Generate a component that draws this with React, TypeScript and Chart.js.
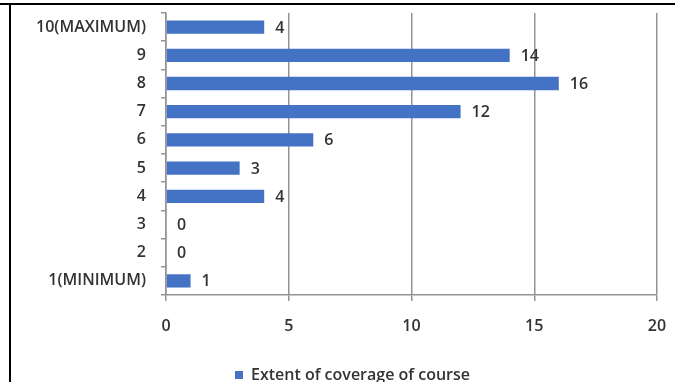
import React, { useEffect, useRef } from "react";
import { Chart, registerables } from "chart.js";

Chart.register(...registerables);

const categories = [
  "10(MAXIMUM)",
  "9",
  "8",
  "7",
  "6",
  "5",
  "4",
  "3",
  "2",
  "1(MINIMUM)",
];
const values = [4, 14, 16, 12, 6, 3, 4, 0, 0, 1];
const seriesLabel = "Extent of coverage of course";
const xMin = 0;
const xMax = 20;
const xStep = 5;

const FONT = "'Open Sans', sans-serif";
const WEIGHT = 600;
const TEXT = "#333333";
const GRID = "#939393";
const BAR = "#4472C4";

const dataLabels = {
  id: "dataLabels",
  afterDatasetsDraw(chart: any) {
    const { ctx } = chart;
    const meta = chart.getDatasetMeta(0);
    ctx.save();
    ctx.font = `${WEIGHT} 16px ${FONT}`;
    ctx.fillStyle = TEXT;
    ctx.textAlign = "left";
    ctx.textBaseline = "middle";
    meta.data.forEach((el: any, i: number) => {
      ctx.fillText(String(values[i]), el.x + 11, el.y + 1);
    });
    ctx.restore();
  },
};

const legendShift = {
  id: "legendShift",
  afterLayout(chart: any) {
    if (chart.legend) {
      chart.legend.left += 24;
      chart.legend.right += 24;
    }
  },
};

export default function App() {
  const ref = useRef<HTMLCanvasElement | null>(null);
  useEffect(() => {
    if (!ref.current) return;
    const chart = new Chart(ref.current, {
      type: "bar",
      data: {
        labels: categories,
        datasets: [
          {
            label: seriesLabel,
            data: values,
            backgroundColor: BAR,
            borderWidth: 0,
            categoryPercentage: 1,
            barPercentage: 0.47,
          },
        ],
      },
      options: {
        indexAxis: "y",
        animation: false,
        responsive: false,
        devicePixelRatio: 1,
        layout: { padding: { top: 13, left: 0, right: 18, bottom: -11 } },
        scales: {
          x: {
            min: xMin,
            max: xMax,
            ticks: {
              stepSize: xStep,
              color: TEXT,
              font: { family: FONT, size: 16, weight: WEIGHT },
              padding: 16,
            },
            grid: {
              color: GRID,
              lineWidth: 1.5,
              tickLength: 6,
              drawTicks: true,
            },
            border: { display: true, color: GRID, width: 1.5 },
            afterFit: (s: any) => {
              s.height = 69;
              s.paddingLeft = 0;
              s.paddingRight = 0;
            },
          },
          y: {
            ticks: {
              color: TEXT,
              font: { family: FONT, size: 16, weight: WEIGHT },
              padding: 15,
              autoSkip: false,
            },
            grid: {
              offset: true,
              drawOnChartArea: false,
              drawTicks: true,
              tickLength: 5,
              color: GRID,
              lineWidth: 1.5,
            },
            border: { display: true, color: GRID, width: 1.5 },
            afterFit: (s: any) => {
              s.width = 166;
              s.paddingTop = 0;
              s.paddingBottom = 0;
            },
          },
        },
        plugins: {
          legend: {
            display: true,
            position: "bottom",
            labels: {
              color: TEXT,
              font: { family: FONT, size: 16, weight: WEIGHT },
              boxWidth: 8,
              boxHeight: 8,
              padding: 3,
            },
          },
          tooltip: { enabled: false },
        },
      } as any,
      plugins: [dataLabels, legendShift],
    });
    return () => chart.destroy();
  }, []);

  return (
    <div style={{ position: "absolute", left: 0, top: 0, width: 675, height: 382, background: "#fff" }}>
      <canvas ref={ref} width={675} height={382} style={{ position: "absolute", left: 0, top: 0 }} />
      <div style={{ position: "absolute", left: 0, top: 3, width: 675, height: 2, background: "#000" }} />
      <div style={{ position: "absolute", left: 9, top: 3, width: 2, height: 379, background: "#000" }} />
    </div>
  );
}
